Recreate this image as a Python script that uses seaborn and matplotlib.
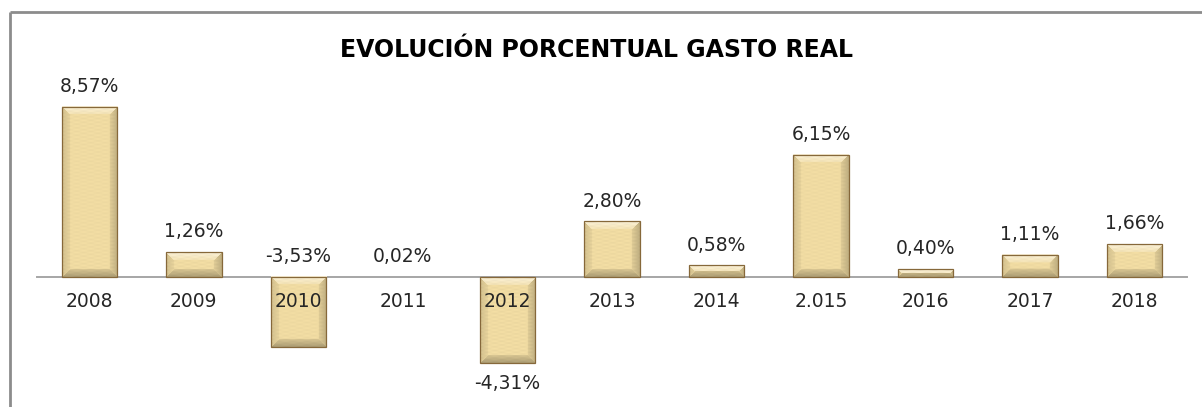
import numpy as np
import pandas as pd
import matplotlib
matplotlib.use("Agg")
import matplotlib.pyplot as plt
from matplotlib.lines import Line2D
import seaborn as sns

# Annual real-spending change (%)
years = ["2008", "2009", "2010", "2011", "2012", "2013", "2014", "2.015", "2016", "2017", "2018"]
values = [8.57, 1.26, -3.53, 0.02, -4.31, 2.80, 0.58, 6.15, 0.40, 1.11, 1.66]
title = "EVOLUCIÓN PORCENTUAL GASTO REAL"

df = pd.DataFrame({"year": years, "value": values})

sns.set_theme(style="white")
plt.rcParams["font.family"] = ["DejaVu Sans"]

W, H, DPI = 12.02, 4.07, 100
fig = plt.figure(figsize=(W, H), dpi=DPI)
fig.patch.set_facecolor("white")

# plot area: zero line sits at ~277 px from the top
px_top, px_bot, px_zero = 60.0, 407.0, 277.0
px_per_unit = 19.84
ax = fig.add_axes([37 / 1202, 0.0, 1150 / 1202, (px_bot - px_top) / 407])
y_hi = (px_zero - px_top) / px_per_unit
y_lo = (px_zero - px_bot) / px_per_unit

base = np.array([240, 219, 162]) / 255.0
edge_col = "#86683a"

sns.barplot(data=df, x="year", y="value", color=tuple(base), width=0.53,
            saturation=1, ax=ax, zorder=3)
ax.set_xlim(-0.5, len(years) - 0.5)
ax.set_ylim(y_lo, y_hi)


def bevel_image(wpx, hpx, bev=8):
    """RGB array of a beveled tile: bright top edge, darker sides and bottom."""
    wpx, hpx = max(int(round(wpx)), 2), max(int(round(hpx)), 2)
    cols = np.arange(wpx)[None, :].repeat(hpx, 0).astype(float)
    rows = np.arange(hpx)[:, None].repeat(wpx, 1).astype(float)
    dl, dr = cols, wpx - 1 - cols
    dt, db = rows, hpx - 1 - rows
    d = np.stack([dt, dl, dr, db])
    which = d.argmin(0)
    m = d.min(0)
    strength = np.array([0.55, -0.12, -0.20, -0.28])
    t = np.clip(1 - m / bev, 0, 1)
    shade = np.where(m < bev, strength[which] * (0.3 + 0.7 * t), 0.0)
    # faint horizontal fibre streaks
    streak = 0.02 * np.sin(rows * 1.7) * np.cos(cols * 0.45)
    out = np.empty((hpx, wpx, 3))
    pos = shade > 0
    s = shade[..., None]
    out[:] = base
    out = np.where(pos[..., None], base + (1 - base) * s, base * (1 + s))
    out = out * (1 + streak[..., None])
    return np.clip(out, 0, 1)


for p in list(ax.patches):
    x0, w = p.get_x(), p.get_width()
    y0, h = p.get_y(), p.get_height()
    ya, yb = min(y0, y0 + h), max(y0, y0 + h)
    wpx = w / (len(years)) * 1150
    hpx = (yb - ya) * px_per_unit
    if hpx < 1.0:
        p.set_facecolor((0.97, 0.95, 0.9))
        p.set_edgecolor("none")
        continue
    ax.imshow(bevel_image(wpx, hpx), extent=[x0, x0 + w, ya, yb], aspect="auto",
              interpolation="bilinear", zorder=3.2, origin="upper")
    p.set_facecolor("none")
    p.set_edgecolor(edge_col)
    p.set_linewidth(0.9)
    p.set_zorder(3.4)

ax.set_xlim(-0.5, len(years) - 0.5)
ax.set_ylim(y_lo, y_hi)

# value labels
label_below = {"2012"}
for i, (yr, v) in enumerate(zip(years, values)):
    txt = f"{v:.2f}".replace(".", ",") + "%"
    if yr in label_below:
        anchor, off = v, -15.0
    else:
        anchor, off = max(v, 0.0), 14.5
    ax.annotate(txt, (i, anchor), xytext=(0, off), textcoords="offset points",
                ha="center", va="center", fontsize=13.5, color="#262626",
                zorder=6, annotation_clip=False)

# axis styling
for s in ["top", "right", "left"]:
    ax.spines[s].set_visible(False)
ax.spines["bottom"].set_position(("data", 0))
ax.spines["bottom"].set_color("#a6a6a6")
ax.spines["bottom"].set_linewidth(1.4)
ax.spines["bottom"].set_zorder(2.5)
ax.set_yticks([])
ax.set_xlabel("")
ax.set_ylabel("")
ax.tick_params(axis="x", length=0, pad=11, labelsize=13.5, labelcolor="#262626")
ax.xaxis.set_zorder(6)
ax.set_facecolor("none")
ax.grid(False)

fig.text(597 / 1202, 1 - 50 / 407, title, ha="center", va="center",
         fontsize=17, fontweight="bold", color="black")

# chart frame (left and top edges)
frame_kw = dict(color="#8c8c8c", lw=2.0, transform=fig.transFigure, solid_capstyle="butt")
fig.add_artist(Line2D([10.5 / 1202, 10.5 / 1202], [0, 1 - 12 / 407], **frame_kw))
fig.add_artist(Line2D([10.5 / 1202, 1.0], [1 - 12 / 407, 1 - 12 / 407], **frame_kw))

fig.savefig("out.png", dpi=DPI, facecolor="white")
